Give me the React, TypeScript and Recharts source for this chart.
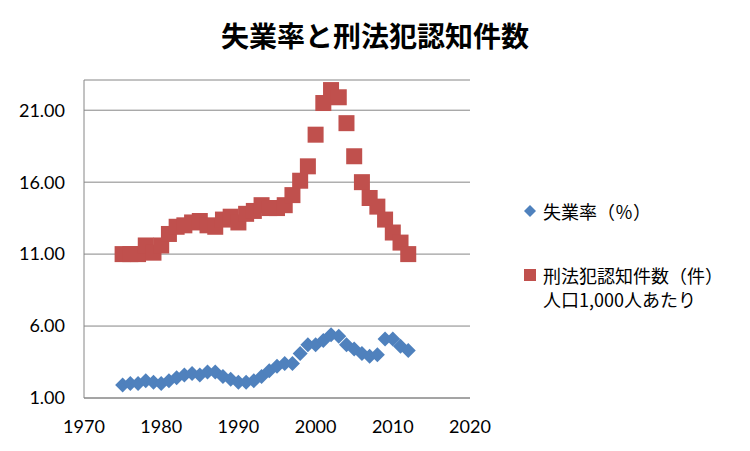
import React from 'react';
import { ScatterChart, Scatter, XAxis, YAxis, CartesianGrid } from 'recharts';

const years = [1975, 1976, 1977, 1978, 1979, 1980, 1981, 1982, 1983, 1984, 1985, 1986, 1987, 1988, 1989, 1990, 1991, 1992, 1993, 1994, 1995, 1996, 1997, 1998, 1999, 2000, 2001, 2002, 2003, 2004, 2005, 2006, 2007, 2008, 2009, 2010, 2011, 2012];
const unemployment = [1.9, 2.0, 2.0, 2.2, 2.1, 2.0, 2.2, 2.4, 2.6, 2.7, 2.6, 2.8, 2.8, 2.5, 2.3, 2.1, 2.1, 2.2, 2.5, 2.9, 3.2, 3.4, 3.4, 4.1, 4.7, 4.7, 5.0, 5.4, 5.3, 4.7, 4.4, 4.1, 3.9, 4.0, 5.1, 5.1, 4.6, 4.3];
const crimeRate = [11.0, 11.0, 11.0, 11.6, 11.1, 11.6, 12.4, 12.9, 13.0, 13.2, 13.3, 13.0, 12.9, 13.4, 13.6, 13.2, 13.8, 14.0, 14.4, 14.2, 14.2, 14.4, 15.1, 16.1, 17.1, 19.3, 21.5, 22.4, 21.9, 20.1, 17.8, 16.0, 14.9, 14.3, 13.4, 12.5, 11.8, 11.0];
const xTicks = [1970, 1980, 1990, 2000, 2010, 2020];
const yTicks = [1, 6, 11, 16, 21];

const title = '失業率と刑法犯認知件数';
const seriesNames = ['失業率（％）', '刑法犯認知件数（件）'];
const seriesNote = '人口1,000人あたり';

const BLUE = '#4F81BD';
const RED = '#C0504D';
const GRID = '#868686';

const unempData = years.map((y, i) => ({ x: y, y: unemployment[i] }));
const crimeData = years.map((y, i) => ({ x: y, y: crimeRate[i] }));

const Diamond = (props: any) => {
  const { cx, cy } = props;
  const r = 7.5;
  return <polygon points={`${cx},${cy - r} ${cx + r},${cy} ${cx},${cy + r} ${cx - r},${cy}`} fill={BLUE} />;
};

const Square = (props: any) => {
  const { cx, cy } = props;
  const s = 8;
  return <rect x={cx - s} y={cy - s} width={s * 2} height={s * 2} fill={RED} />;
};

const tickFont = { fontFamily: 'Lato, "Liberation Sans", sans-serif', fontSize: 18, fill: '#000' };
const cjkFont = '"Noto Sans CJK JP", sans-serif';

export default function App() {
  return (
    <div style={{ position: 'absolute', left: 0, top: 0, width: 750, height: 451, background: '#fff' }}>
      <ScatterChart width={750} height={451} margin={{ top: 80, right: 280, bottom: 0, left: 0 }}>
        <CartesianGrid horizontal={true} vertical={false} stroke={GRID} />
        <XAxis
          type="number"
          dataKey="x"
          domain={[1970, 2020]}
          ticks={xTicks}
          height={53}
          tickLine={false}
          tickSize={0}
          tickMargin={22}
          axisLine={{ stroke: GRID }}
          tick={tickFont}
          allowDataOverflow
        />
        <YAxis
          type="number"
          dataKey="y"
          domain={[1, 23.1]}
          ticks={yTicks}
          width={84}
          tickLine={false}
          tickSize={0}
          tickMargin={19}
          axisLine={{ stroke: GRID }}
          tick={tickFont}
          tickFormatter={(v: number) => v.toFixed(2)}
          allowDataOverflow
        />
        <Scatter data={unempData} shape={Diamond} isAnimationActive={false} />
        <Scatter data={crimeData} shape={Square} isAnimationActive={false} />
        <text x={375} y={35} textAnchor="middle" dominantBaseline="central" fontFamily={cjkFont} fontWeight="bold" fontSize={28} fill="#000">
          {title}
        </text>
      </ScatterChart>
      <div style={{ position: 'absolute', left: 523, top: 199, fontFamily: cjkFont, fontSize: 18, color: '#000', lineHeight: '24px' }}>
        <div style={{ display: 'flex', alignItems: 'center' }}>
          <svg width={14} height={14} style={{ marginRight: 6 }}>
            <polygon points="7,1 13,7 7,13 1,7" fill={BLUE} />
          </svg>
          <span>{seriesNames[0]}</span>
        </div>
      </div>
      <div style={{ position: 'absolute', left: 523, top: 263, fontFamily: cjkFont, fontSize: 18, color: '#000', lineHeight: '24px' }}>
        <div style={{ display: 'flex', alignItems: 'center' }}>
          <svg width={14} height={14} style={{ marginRight: 6 }}>
            <rect x={1} y={1} width={12} height={12} fill={RED} />
          </svg>
          <span>{seriesNames[1]}</span>
        </div>
        <div style={{ paddingLeft: 20 }}>{seriesNote}</div>
      </div>
    </div>
  );
}
